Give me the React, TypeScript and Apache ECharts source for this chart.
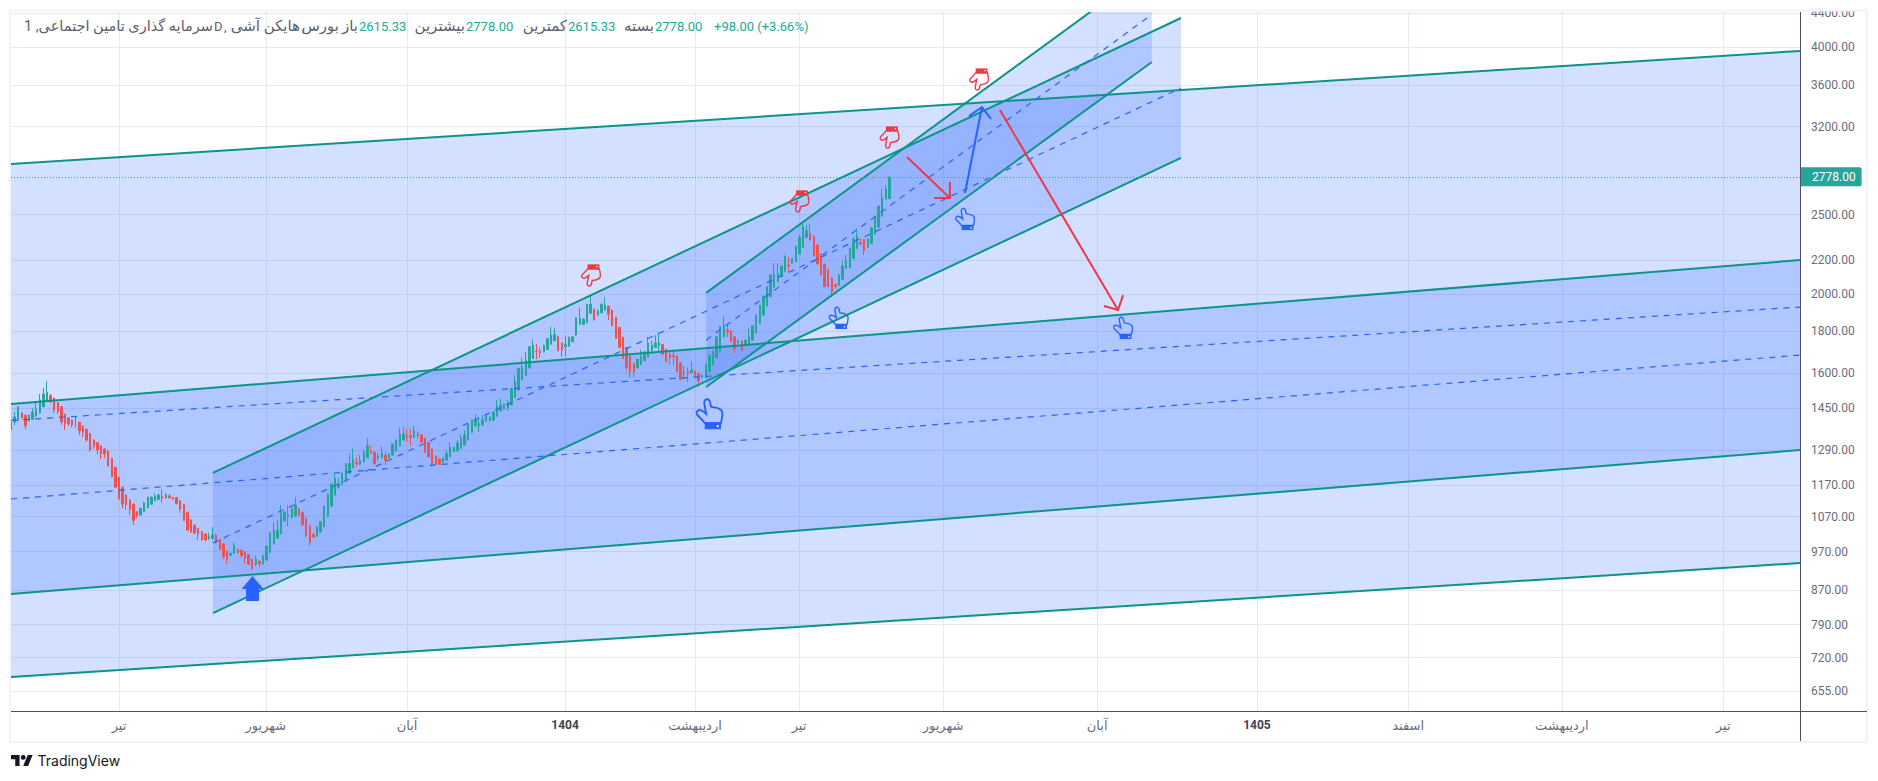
import React, { useEffect, useRef } from "react";
import * as echarts from "echarts";

// ---------- data: Heikin Ashi candles (price units), one per bar index ----------
const opens = [
  1396,1396,1403,1432,1423,1400,1407,1419,1432,1457,
  1482,1503,1493,1474,1457,1427,1412,1403,1413,1395,
  1380,1368,1352,1327,1317,1306,1294,1287,1260,1229,
  1195,1162,1137,1121,1108,1085,1075,1085,1097,1108,
  1119,1123,1132,1128,1134,1129,1129,1119,1107,1083,
  1060,1045,1035,1025,1019,1007,1007,1016,1004,991,
  971,960,965,976,974,969,962,949,936,944,
  938,947,967,991,1007,1020,1057,1070,1068,1072,
  1093,1083,1065,1042,1018,1013,1025,1040,1070,1102,
  1137,1162,1172,1186,1209,1228,1246,1239,1248,1262,
  1286,1282,1262,1262,1272,1260,1272,1287,1305,1327,
  1343,1343,1337,1350,1346,1333,1318,1294,1268,1258,
  1246,1254,1266,1284,1287,1296,1308,1327,1355,1381,
  1381,1384,1400,1400,1403,1419,1440,1447,1450,1464,
  1496,1527,1573,1592,1625,1669,1703,1703,1700,1711,
  1737,1754,1776,1743,1724,1727,1749,1782,1837,1837,
  1845,1894,1917,1885,1897,1912,1933,1912,1873,1821,
  1771,1721,1680,1645,1625,1642,1658,1676,1705,1721,
  1732,1735,1713,1688,1683,1680,1648,1608,1608,1603,
  1611,1601,1582,1582,1608,1638,1672,1700,1773,1807,
  1803,1773,1743,1752,1732,1732,1757,1793,1842,1885,
  1933,1986,2037,2070,2100,2129,2170,2180,2190,2238,
  2280,2345,2372,2353,2295,2238,2176,2143,2093,2055,
  2050,2084,2150,2153,2210,2274,2312,2332,2280,2305,
  2367,2412,2489,2611,2615,
];
const closes = [
  1365,1416,1457,1412,1381,1423,1436,1447,1485,1510,
  1518,1478,1443,1436,1396,1388,1390,1384,1416,1362,
  1355,1327,1290,1306,1290,1276,1276,1234,1197,1162,
  1124,1108,1107,1092,1058,1072,1095,1113,1130,1130,
  1134,1137,1126,1137,1128,1124,1110,1092,1058,1030,
  1025,1022,1019,1002,1002,1011,1016,995,976,956,
  949,965,988,967,960,952,936,925,949,937,
  959,985,1022,1028,1030,1082,1084,1075,1095,1105,
  1073,1045,1013,995,1010,1040,1055,1102,1140,1173,
  1192,1175,1209,1242,1242,1258,1242,1254,1282,1305,
  1278,1242,1269,1278,1252,1276,1312,1327,1349,1349,
  1337,1337,1361,1343,1319,1282,1266,1240,1240,1239,
  1262,1278,1300,1300,1315,1333,1346,1388,1403,1403,
  1390,1403,1419,1416,1436,1459,1464,1468,1474,1534,
  1562,1622,1630,1661,1724,1732,1700,1697,1732,1765,
  1782,1785,1705,1708,1737,1771,1773,1871,1868,1864,
  1942,1942,1859,1906,1944,1938,1890,1829,1765,1721,
  1669,1627,1608,1605,1665,1676,1700,1743,1732,1743,
  1743,1689,1653,1673,1676,1608,1573,1601,1601,1615,
  1582,1567,1592,1642,1684,1703,1773,1824,1829,1796,
  1749,1716,1752,1705,1757,1773,1829,1885,1938,1988,
  2041,2110,2113,2119,2163,2225,2163,2210,2289,2345,
  2416,2389,2327,2225,2176,2110,2041,2041,2012,2044,
  2113,2163,2194,2274,2334,2353,2301,2259,2334,2409,
  2489,2560,2620,2686,2778,
];
const lows = [
  1355,1384,1397,1410,1369,1398,1405,1417,1430,1455,
  1480,1472,1431,1427,1384,1365,1381,1376,1374,1346,
  1338,1320,1284,1294,1276,1258,1261,1232,1195,1160,
  1122,1095,1092,1075,1045,1065,1073,1083,1095,1106,
  1117,1121,1112,1126,1126,1122,1107,1082,1056,1028,
  1022,1019,1002,1000,999,1002,1002,992,974,950,
  936,958,963,965,953,936,934,921,931,929,
  934,945,965,989,1005,1018,1055,1042,1063,1070,
  1071,1043,1011,985,1008,1010,1023,1038,1068,1100,
  1135,1156,1170,1184,1207,1226,1231,1237,1246,1260,
  1276,1237,1251,1260,1237,1258,1270,1285,1303,1325,
  1321,1305,1335,1333,1317,1280,1264,1232,1238,1237,
  1244,1252,1264,1282,1285,1294,1306,1325,1353,1379,
  1357,1382,1398,1398,1401,1417,1438,1445,1440,1462,
  1494,1525,1571,1590,1623,1667,1665,1673,1698,1709,
  1735,1752,1703,1676,1680,1725,1747,1780,1835,1835,
  1843,1892,1857,1883,1895,1910,1859,1827,1763,1719,
  1667,1615,1580,1582,1623,1640,1656,1674,1703,1719,
  1705,1687,1651,1642,1638,1606,1571,1573,1562,1601,
  1580,1541,1580,1580,1606,1636,1670,1698,1771,1773,
  1747,1695,1741,1703,1730,1730,1755,1791,1840,1883,
  1931,1984,2035,2068,2098,2127,2127,2178,2188,2236,
  2278,2343,2325,2223,2174,2108,2039,2039,1984,2030,
  2048,2082,2148,2151,2208,2272,2295,2232,2278,2303,
  2365,2410,2487,2609,2615,
];
const highs = [
  1400,1436,1457,1434,1423,1425,1451,1478,1510,1536,
  1566,1510,1495,1476,1459,1429,1415,1405,1416,1397,
  1382,1370,1354,1329,1319,1308,1297,1289,1262,1231,
  1197,1164,1139,1123,1110,1087,1097,1115,1132,1132,
  1142,1142,1156,1143,1140,1131,1131,1121,1109,1085,
  1062,1047,1037,1027,1021,1022,1040,1019,1006,993,
  973,967,995,978,976,971,964,951,958,946,
  961,987,1024,1052,1060,1105,1086,1105,1102,1130,
  1095,1085,1067,1044,1020,1042,1057,1104,1142,1175,
  1209,1193,1211,1244,1278,1296,1264,1272,1292,1333,
  1308,1284,1278,1302,1284,1278,1314,1329,1375,1375,
  1368,1369,1380,1359,1348,1335,1320,1296,1270,1260,
  1264,1290,1318,1302,1327,1348,1365,1390,1405,1427,
  1411,1423,1423,1418,1438,1485,1489,1470,1485,1536,
  1592,1624,1673,1700,1726,1760,1737,1721,1734,1767,
  1824,1821,1778,1745,1776,1773,1775,1873,1921,1866,
  1944,1988,1919,1916,1946,1981,1935,1914,1875,1823,
  1773,1723,1682,1647,1667,1711,1702,1773,1753,1782,
  1793,1737,1715,1703,1711,1682,1650,1633,1627,1653,
  1613,1603,1594,1644,1686,1705,1775,1826,1880,1838,
  1805,1775,1760,1754,1759,1816,1831,1887,1940,1990,
  2043,2112,2180,2180,2165,2227,2221,2212,2291,2360,
  2439,2428,2435,2355,2297,2240,2178,2145,2095,2057,
  2115,2190,2232,2276,2349,2406,2338,2334,2336,2411,
  2491,2562,2689,2716,2778,
];

// ---------- axes ----------
const X_MAX = 496.94;
const PRICE_MIN = 619.7;
const PRICE_MAX = 4417;
const LAST_PRICE = 2778;
const priceTicks = [655, 720, 790, 870, 970, 1070, 1170, 1290, 1450, 1600, 1800, 2000, 2200, 2500, 3200, 3600, 4000, 4400];
const timeTickBars = [30, 70.8, 110, 153.9, 190, 218.9, 258.9, 301.7, 346.1, 388.1, 430.8, 475.6];
const timeTickLabels = ["تیر", "شهریور", "آبان", "1404", "اردیبهشت", "تیر", "شهریور", "آبان", "1405", "اسفند", "اردیبهشت", "تیر"];
const boldTimeLabels = ["1404", "1405"];

// ---------- parallel channels: start/end bar, upper and lower price at each end ----------
const channelStart = [0, 0, 56.1, 193.1];
const channelEnd = [496.94, 496.94, 325, 316.9];
const channelUpperStart = [2882, 1468, 1210, 2006];
const channelUpperEnd = [3959, 2200, 4343, 5013];
const channelLowerStart = [682, 861, 816, 1540];
const channelLowerEnd = [939, 1290, 2931, 3838];

// ---------- arrows: tail bar/price, head bar/price, two barb bar/price ----------
const arrowTails = [[248.9, 2939], [274.7, 3354], [265, 2656]];
const arrowHeads = [[260.8, 2619], [307.5, 1912], [269.7, 3382]];
const arrowBarbsA = [[256.4, 2619], [303.6, 1934], [266.1, 3298]];
const arrowBarbsB = [[260.8, 2740], [308.9, 1994], [272.2, 3270]];

// ---------- annotation anchors: bar, price ----------
const redHands = [[161.1, 2107], [219, 2594], [244, 3105], [268.9, 3654]];
const blueHands = [[194, 1428], [229.9, 1870], [265, 2469], [308.9, 1818]];
const upMarker = [[67.1, 874]];

// ---------- styles ----------
const TEAL = "#0c9488";
const BLUE = "#2962ff";
const RED = "#f23645";
const UP = "#26a69a";
const DOWN = "#ef5350";
const FILL = "rgba(41,98,255,0.2)";
const GRID = "#e6ebf3";
const AXIS_TEXT = "#6a6d78";
const LATIN = "Roboto, 'DejaVu Sans', sans-serif";
const arrowColors = [RED, RED, BLUE];
const bigHand = 0;

const HAND = "M6.5 18C5 15 1.5 13.5 .8 11.5C.2 9.5 2.2 8.2 4 9C5.5 9.6 6.8 10.6 7.6 11.4L6.3 4C5.9 1.5 7.5 .6 8.8 .9C10 1.2 10.6 2.6 10.9 5.2L11.4 6.4C13.5 6.6 17 7.4 18.6 8.8C20 10 19.4 14 18.4 18Z";
const UP_ARROW = "M0 -12.5L11 .5L6.5 .5L6.5 12.5L-6.5 12.5L-6.5 .5L-11 .5Z";
const TV_LOGO = "M14 22H7V11H0V4h14v18zM28 22h-8l7.5-18h8L28 22zM24 8a4 4 0 1 1-8 0a4 4 0 0 1 8 0z";
echarts.graphic.registerShape("tvLogo", echarts.graphic.extendPath(TV_LOGO as any, {}) as any);

const GREY = "#5d606b";
const VALUE = "#22ab94";
const headerChunks: { t: string; x: number; a: string; c: string; s: number }[] = [
  { t: "سرمایه گذاری تامین اجتماعی, 1", x: 213, a: "right", c: GREY, s: 14.5 },
  { t: "D", x: 214, a: "left", c: GREY, s: 13 },
  { t: ",", x: 224, a: "left", c: GREY, s: 13 },
  { t: "هایکن آشی", x: 300, a: "right", c: GREY, s: 15 },
  { t: ",", x: 302, a: "left", c: GREY, s: 13 },
  { t: "بورس", x: 339, a: "right", c: GREY, s: 15 },
  { t: "باز", x: 358, a: "right", c: GREY, s: 15 },
  { t: "2615.33", x: 359, a: "left", c: VALUE, s: 13 },
  { t: "بیشترین", x: 465, a: "right", c: GREY, s: 15 },
  { t: "2778.00", x: 466, a: "left", c: VALUE, s: 13 },
  { t: "کمترین", x: 567, a: "right", c: GREY, s: 15 },
  { t: "2615.33", x: 568, a: "left", c: VALUE, s: 13 },
  { t: "بسته", x: 654, a: "right", c: GREY, s: 15 },
  { t: "2778.00", x: 655, a: "left", c: VALUE, s: 13 },
  { t: "+98.00 (+3.66%)", x: 714, a: "left", c: VALUE, s: 13 },
];

const ln = Math.log;
const geoMid = (a: number, b: number) => Math.exp((ln(a) + ln(b)) / 2);

const handItem = (color: string, flip: number) => (params: any, api: any) => {
  const [px, py] = api.coord([api.value(0), ln(api.value(1))]);
  const s = color === BLUE && params.dataIndex === bigHand ? 1.38 : 1;
  return {
    type: "group",
    x: px,
    y: py,
    scaleX: s,
    scaleY: s * flip,
    children: [
      { type: "path", x: -10, y: -11.5, shape: { pathData: HAND }, style: { fill: "none", stroke: color, lineWidth: 1.4 } },
      { type: "rect", x: -10, y: -11.5, shape: { x: 6.6, y: 18, width: 11.8, height: 4.6 }, style: { fill: color } },
      { type: "circle", x: -10, y: -11.5, shape: { cx: 16, cy: 20.4, r: 0.7 }, style: { fill: "#ffffff" } },
    ],
  };
};

export default function App() {
  const ref = useRef<HTMLDivElement>(null);

  useEffect(() => {
    const chart = echarts.init(ref.current as HTMLDivElement, undefined, { renderer: "svg" });
    const candleData = opens.map((o, i) => [i, ln(o), ln(closes[i]), ln(lows[i]), ln(highs[i])]);
    const channelData = channelStart.map((s, i) => [
      s, channelEnd[i], channelUpperStart[i], channelUpperEnd[i], channelLowerStart[i], channelLowerEnd[i],
    ]);
    const arrowData = arrowTails.map((t, i) => [...t, ...arrowHeads[i], ...arrowBarbsA[i], ...arrowBarbsB[i]]);

    const at = (api: any, x: number, p: number) => api.coord([x, ln(p)]);

    const option: any = {
      animation: false,
      backgroundColor: "#ffffff",
      textStyle: { fontFamily: LATIN },
      grid: { left: 11, top: 12, width: 1789, height: 699, containLabel: false },
      xAxis: {
        type: "value",
        min: 0,
        max: X_MAX,
        axisLine: { show: false },
        axisTick: { show: false, customValues: timeTickBars },
        splitLine: { show: true, lineStyle: { color: GRID, width: 1 } },
        axisLabel: {
          customValues: timeTickBars,
          color: AXIS_TEXT,
          fontSize: 13,
          margin: 8,
          fontFamily: LATIN,
          formatter: (v: number) => {
            const label = timeTickLabels[timeTickBars.indexOf(v)] ?? "";
            return boldTimeLabels.includes(label) ? `{b|${label}}` : label;
          },
          rich: { b: { fontWeight: "bold", fontSize: 12, color: "#3f424d", fontFamily: LATIN } },
        },
      },
      yAxis: {
        type: "value",
        position: "right",
        min: ln(PRICE_MIN),
        max: ln(PRICE_MAX),
        axisLine: { show: false },
        axisTick: { show: false, customValues: priceTicks.map(ln) },
        splitLine: { show: true, lineStyle: { color: GRID, width: 1 } },
        axisLabel: {
          customValues: priceTicks.map(ln),
          color: AXIS_TEXT,
          fontSize: 12,
          margin: 11,
          align: "left",
          fontFamily: LATIN,
          formatter: (v: number) => Math.round(Math.exp(v)).toFixed(2),
        },
      },
      series: [
        {
          type: "custom",
          name: "channel fills",
          z: 2,
          silent: true,
          clip: true,
          data: channelData,
          encode: { x: 0, y: 2 },
          renderItem: (_: any, api: any) => ({
            type: "polygon",
            shape: {
              points: [
                at(api, api.value(0), api.value(2)),
                at(api, api.value(1), api.value(3)),
                at(api, api.value(1), api.value(5)),
                at(api, api.value(0), api.value(4)),
              ],
            },
            style: { fill: FILL },
          }),
        },
        {
          type: "candlestick",
          name: "سرمایه گذاری تامین اجتماعی",
          z: 3,
          barWidth: 2,
          silent: true,
          clip: true,
          data: candleData,
          itemStyle: { color: UP, color0: DOWN, borderColor: UP, borderColor0: DOWN, borderWidth: 1 },
          markLine: {
            silent: true,
            symbol: "none",
            animation: false,
            data: [{ yAxis: ln(LAST_PRICE) }],
            lineStyle: { color: UP, type: [1, 2], width: 1 },
            label: {
              show: true,
              position: "end",
              distance: 0,
              formatter: LAST_PRICE.toFixed(2),
              color: "#ffffff",
              fontSize: 12,
              fontFamily: LATIN,
              backgroundColor: UP,
              padding: [3, 6, 3, 12],
              lineHeight: 13,
              borderRadius: [0, 2, 2, 0],
            },
          },
        },
        {
          type: "custom",
          name: "channel lines",
          z: 4,
          silent: true,
          clip: true,
          data: channelData,
          encode: { x: 0, y: 2 },
          renderItem: (_: any, api: any) => {
            const x0 = api.value(0), x1 = api.value(1);
            const u0 = api.value(2), u1 = api.value(3), l0 = api.value(4), l1 = api.value(5);
            const seg = (p0: number, p1: number, style: any) => {
              const a = at(api, x0, p0), b = at(api, x1, p1);
              return { type: "line", shape: { x1: a[0], y1: a[1], x2: b[0], y2: b[1] }, style };
            };
            const solid = { stroke: TEAL, lineWidth: 2, fill: "none" };
            return {
              type: "group",
              children: [
                seg(geoMid(u0, l0), geoMid(u1, l1), { stroke: BLUE, lineWidth: 1.2, lineDash: [6, 6], fill: "none" }),
                seg(u0, u1, solid),
                seg(l0, l1, solid),
              ],
            };
          },
        },
        {
          type: "custom",
          name: "arrows",
          z: 5,
          silent: true,
          clip: true,
          data: arrowData,
          encode: { x: 0, y: 1 },
          renderItem: (params: any, api: any) => {
            const tail = at(api, api.value(0), api.value(1));
            const head = at(api, api.value(2), api.value(3));
            const a = at(api, api.value(4), api.value(5));
            const b = at(api, api.value(6), api.value(7));
            const style = { stroke: arrowColors[params.dataIndex], lineWidth: 2, fill: "none" };
            return {
              type: "group",
              children: [
                { type: "polyline", shape: { points: [tail, head] }, style },
                { type: "polyline", shape: { points: [a, head, b] }, style },
              ],
            };
          },
        },
        { type: "custom", name: "red hands", z: 6, silent: true, clip: false, data: redHands, encode: { x: 0, y: 1 }, renderItem: handItem(RED, -1) },
        { type: "custom", name: "blue hands", z: 6, silent: true, clip: false, data: blueHands, encode: { x: 0, y: 1 }, renderItem: handItem(BLUE, 1) },
        {
          type: "custom",
          name: "up marker",
          z: 6,
          silent: true,
          clip: false,
          data: upMarker,
          encode: { x: 0, y: 1 },
          renderItem: (_: any, api: any) => {
            const [px, py] = at(api, api.value(0), api.value(1));
            return { type: "path", x: px, y: py, shape: { pathData: UP_ARROW }, style: { fill: BLUE } };
          },
        },
      ],
      graphic: [
        { type: "rect", z: 100, silent: true, shape: { x: 1801, y: 0, width: 70, height: 10 }, style: { fill: "#ffffff" } },
        { type: "rect", z: 101, silent: true, shape: { x: 10, y: 10.5, width: 1857, height: 731.5 }, style: { fill: "none", stroke: "#f0f3fa", lineWidth: 2 } },
        { type: "line", z: 102, silent: true, shape: { x1: 1800.5, y1: 12, x2: 1800.5, y2: 741 }, style: { stroke: "#50535e", lineWidth: 1 } },
        { type: "line", z: 102, silent: true, shape: { x1: 11, y1: 711.5, x2: 1867, y2: 711.5 }, style: { stroke: "#50535e", lineWidth: 1 } },
        ...headerChunks.map((h) => ({
          type: "text",
          z: 103,
          silent: true,
          x: h.x,
          y: 26,
          style: { text: h.t, fill: h.c, font: `${h.s}px ${LATIN}`, align: h.a, verticalAlign: "middle" },
        })),
        { type: "tvLogo", z: 103, silent: true, x: 11, y: 752.5, scaleX: 0.61, scaleY: 0.61, style: { fill: "#131722" } },
        {
          type: "text",
          z: 103,
          silent: true,
          x: 37.5,
          y: 760,
          style: { text: "TradingView", fill: "#131722", font: `14px Inter, ${LATIN}`, align: "left", verticalAlign: "middle" },
        },
      ],
    };
    chart.setOption(option);
    return () => chart.dispose();
  }, []);

  return <div ref={ref} style={{ position: "absolute", left: 0, top: 0, width: 1878, height: 781, background: "#fff" }} />;
}
